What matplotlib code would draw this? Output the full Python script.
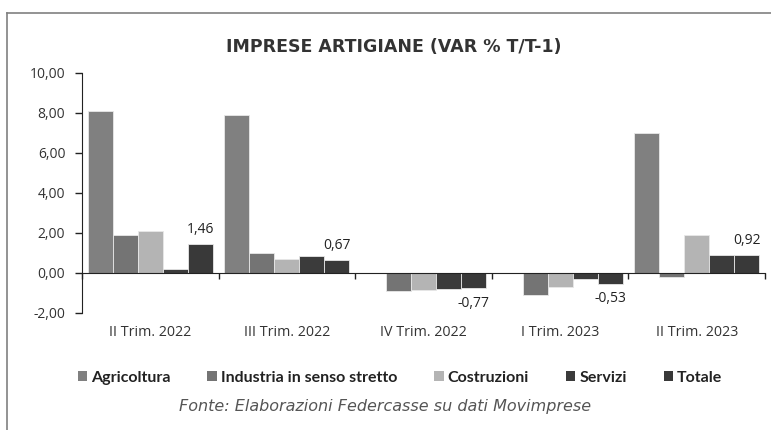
import matplotlib
matplotlib.use("Agg")
import matplotlib.pyplot as plt
from matplotlib.lines import Line2D
from matplotlib.patches import Patch
import numpy as np

categories = ["II Trim. 2022", "III Trim. 2022", "IV Trim. 2022", "I Trim. 2023", "II Trim. 2023"]
series_names = ["Agricoltura", "Industria in senso stretto", "Costruzioni", "Servizi", "Totale"]
agricoltura = [8.09, 7.89, 0.0, 0.0, 7.00]
industria = [1.89, 1.00, -0.90, -1.10, -0.20]
costruzioni = [2.09, 0.70, -0.85, -0.70, 1.89]
servizi = [0.20, 0.86, -0.80, -0.30, 0.90]
totale = [1.46, 0.67, -0.77, -0.53, 0.92]
yticks = [-2, 0, 2, 4, 6, 8, 10]
title = "IMPRESE ARTIGIANE (VAR % T/T-1)"
source = "Fonte: Elaborazioni Federcasse su dati Movimprese"

colors = ["#808080", "#747474", "#b4b4b4", "#3b3b3b", "#393939"]
data = [agricoltura, industria, costruzioni, servizi, totale]

W, H = 771, 430
fig = plt.figure(figsize=(W / 100, H / 100), dpi=100)
ax = fig.add_axes([82 / W, 1 - 313 / H, (765 - 82) / W, (313 - 73) / H])

x = np.arange(len(categories))
n = len(series_names)
bw = 25 / 136.7
for i, (vals, c) in enumerate(zip(data, colors)):
    pos = x - (n - 1) / 2 * bw + i * bw
    bars = ax.bar(pos, vals, width=bw, color=c, edgecolor="#e8e8e8", linewidth=0.6, zorder=2)
    if series_names[i] == "Totale":
        for b, v in zip(bars, vals):
            lbl = f"{v:.2f}".replace(".", ",")
            off = 14 if v >= 0 else -15
            ax.annotate(lbl, (b.get_x() + b.get_width() / 2, v), xytext=(0, off),
                        textcoords="offset pixels", ha="center", va="center",
                        fontsize=10, color="#222222", family="Open Sans")

ax.set_xlim(-0.5, len(categories) - 0.5)
ax.set_ylim(-2, 10)
ax.set_yticks(yticks)
ax.set_yticklabels([f"{v:.2f}".replace(".", ",") for v in yticks], family="Open Sans", fontsize=10, color="#333333")
ax.set_xticks(np.arange(len(categories) + 1) - 0.5)
ax.set_xticklabels([])
for xi, cat in zip(x, categories):
    ax.text(xi, -20 / 240, cat, transform=ax.get_xaxis_transform(), ha="center", va="center",
            family="Open Sans", fontsize=10.3, color="#333333")
ax.tick_params(axis="x", length=4, direction="out", color="#222222", width=1)
ax.tick_params(axis="y", length=5, direction="out", color="#222222", width=1, pad=7)

for s in ["top", "right"]:
    ax.spines[s].set_visible(False)
ax.spines["bottom"].set_position(("data", 0))
ax.spines["bottom"].set_color("#222222")
ax.spines["left"].set_color("#222222")
ax.spines["bottom"].set_zorder(3)

fig.text(394 / W, 1 - 47 / H, title, ha="center", va="center", fontsize=12.5, fontweight="bold",
         color="#333333", family="DejaVu Sans")

handles = [Patch(facecolor=c, edgecolor="none") for c in colors]
leg = fig.legend(handles, series_names, loc="center", bbox_to_anchor=(400 / W, 1 - 378 / H), ncol=5,
                 frameon=False, prop={"family": "Lato", "weight": "bold", "size": 11.5},
                 handlelength=0.6, handleheight=0.6, handletextpad=0.25, columnspacing=2.3)
for t in leg.get_texts():
    t.set_color("#222222")

fig.text(385 / W, 1 - 407 / H, source, ha="center", va="center", fontsize=11.5, style="italic",
         color="#555555", family="DejaVu Sans")

fig.add_artist(Line2D([7 / W, 1.0], [1 - 13 / H, 1 - 13 / H], color="#808080", linewidth=1.2))
fig.add_artist(Line2D([7 / W, 7 / W], [1 - 13 / H, 0], color="#808080", linewidth=1.2))

fig.savefig("out.png", dpi=100)
